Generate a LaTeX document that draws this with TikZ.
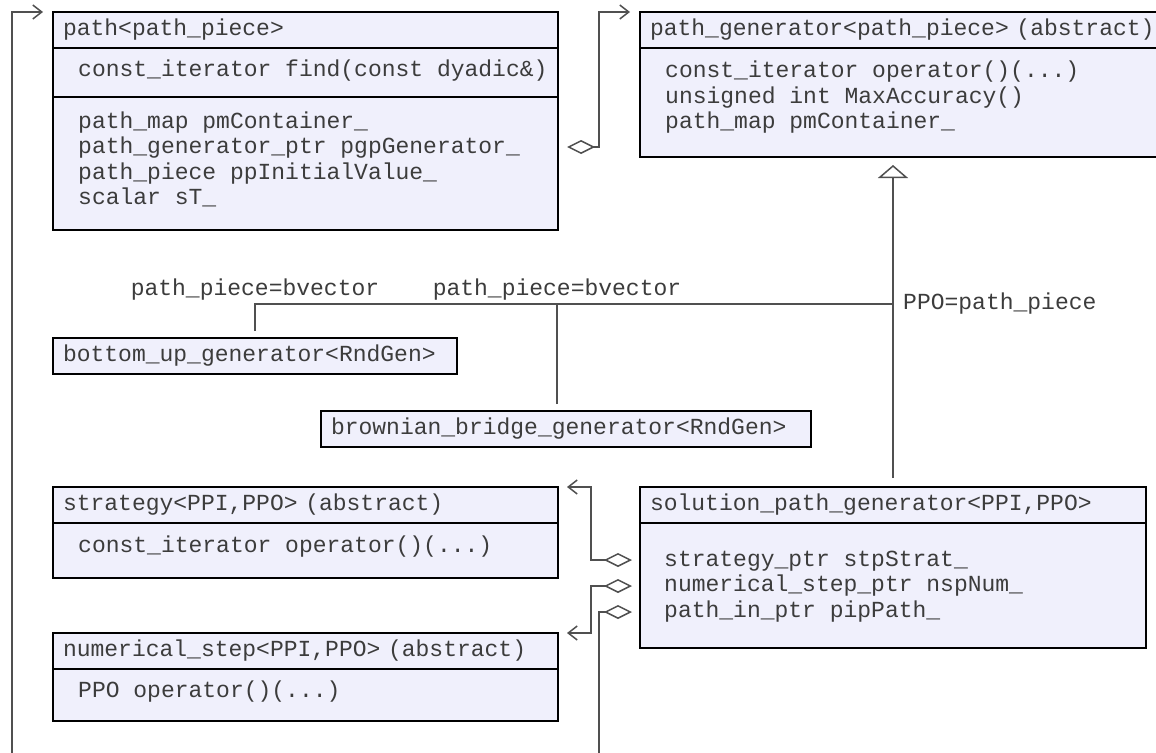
\documentclass[tikz,border=0pt]{standalone}
\usepackage{xcolor}
\usepackage{fontspec}
\usepackage{tikz}
\usetikzlibrary{arrows.meta,positioning}
\newfontfamily\umlfont{Liberation Mono}
\definecolor{classFill}{HTML}{F0F0FC}
\definecolor{classText}{HTML}{3C3C3C}
\definecolor{wireGray}{HTML}{505050}
\newcommand{\classfont}{\umlfont\fontsize{23}{25.5}\selectfont}

\begin{document}
\begin{tikzpicture}[x=1pt,y=-1pt,
    part/.style={draw=black,line width=2.4pt,fill=classFill,outer sep=0pt,inner ysep=1pt},
    titlepart/.style={part,anchor=north west,inner xsep=10pt,text width=#1pt,minimum height=36pt,
      align=left,font=\classfont,text=classText},
    bodypart/.style={part,minimum width=#1pt},
    members/.style={font=\classfont,text=classText,align=left,inner sep=0pt},
    wire/.style={draw=wireGray,line width=1.5pt},
    owns/.style={wire,{Diamond[open,length=28pt,width=14pt]}-{Straight Barb[length=9pt,width=14pt]}},
    isa/.style={wire,-{Triangle[open,length=13pt,width=30pt]}}]
    \path[fill=white,use as bounding box] (0,0) rectangle (1156,752);

    % path<path_piece>
    \node[titlepart=485] (pathT) at (53,12) {path<path\_piece>};
    \node[bodypart=505,minimum height=49pt,below=0pt of pathT] (pathM) {};
    \node[bodypart=505,minimum height=133pt,below=0pt of pathM] (pathA) {};
    \node[members,right=25pt of pathM.west,yshift=2pt] (pathMList) {const\_iterator find(const dyadic\&)};
    \node[members,right=25pt of pathA.west,yshift=4pt] (pathAList) {path\_map pmContainer\_\\path\_generator\_ptr pgpGenerator\_\\path\_piece ppInitialValue\_\\scalar sT\_};

    % path_generator (abstract)
    \node[titlepart=520] (genT) at (640,12) {path\_generator<path\_piece> (abstract)};
    \node[bodypart=540,minimum height=109pt,below=0pt of genT] (genM) {};
    \node[members,right=25pt of genM.west,yshift=5pt] (genMList) {const\_iterator operator()(...)\\unsigned int MaxAccuracy()\\path\_map pmContainer\_};

    % generators bound to bvector
    \node[titlepart=384] (buGen) at (53,338) {bottom\_up\_generator<RndGen>};
    \node[titlepart=470] (bbGen) at (321,411) {brownian\_bridge\_generator<RndGen>};

    % strategy and numerical step
    \node[titlepart=485] (stratT) at (53,487) {strategy<PPI,PPO> (abstract)};
    \node[bodypart=505,minimum height=55pt,below=0pt of stratT] (stratM) {};
    \node[members,right=25pt of stratM.west,yshift=4pt] (stratMList) {const\_iterator operator()(...)};
    \node[titlepart=485] (numT) at (53,633) {numerical\_step<PPI,PPO> (abstract)};
    \node[bodypart=505,minimum height=52pt,below=0pt of numT] (numM) {};
    \node[members,right=25pt of numM.west,yshift=3pt] (numMList) {PPO operator()(...)};

    % solution_path_generator
    \node[titlepart=486] (solT) at (640,487) {solution\_path\_generator<PPI,PPO>};
    \node[bodypart=506,minimum height=125pt,below=0pt of solT] (solA) {};
    \node[members,right=24pt of solA.west,yshift=-1pt] (solAList) {strategy\_ptr stpStrat\_\\numerical\_step\_ptr nspNum\_\\path\_in\_ptr pipPath\_};

    % inheritance with template binding
    \coordinate (tee) at (solT.north |- 0,304);
    \draw[isa] ([yshift=9pt]solT.north) -- ([yshift=-8pt]solT.north |- genM.south);
    \draw[wire] ([yshift=7pt]buGen.north) |- (tee);
    \draw[wire] ([xshift=-9pt,yshift=7pt]bbGen.north) -- ([xshift=-9pt]bbGen.north |- tee);
    \node[members] (buBind) at (buGen.north |- 0,290) {path\_piece=bvector};
    \node[members] (bbBind) at ([xshift=-9pt]bbGen.north |- 0,290) {path\_piece=bvector};
    \node[members,right=10pt of tee] (ppoBind) {PPO=path\_piece};

    % aggregations
    \draw[owns] ([xshift=9pt,yshift=16.5pt]pathA.east) -- ++(32,0) |- ([xshift=-10pt]genT.north west);
    \draw[owns] ([xshift=-8pt,yshift=25.5pt]solA.west) -- ++(-41,0) |- ([xshift=9pt]stratT.north east);
    \draw[owns] ([xshift=-8pt,yshift=-0.5pt]solA.west) -- ++(-41,0) |- ([xshift=9pt]numT.north east);
    \draw[owns] ([xshift=-8pt,yshift=-26.5pt]solA.west) -- ++(-33,0) -- ++(0,200) -- ++(-587,0)
      |- ([xshift=-10pt]pathT.north west);
\end{tikzpicture}
\end{document}
